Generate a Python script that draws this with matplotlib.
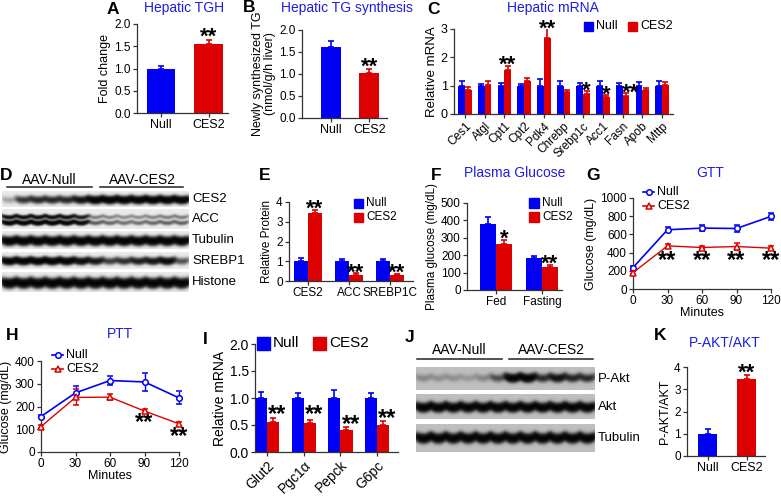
"""
Multi-panel figure: hepatic lipid data, blots, glucose and insulin tolerance
"""
import matplotlib.pyplot as plt
import numpy as np
from matplotlib.patches import Rectangle

plt.rcParams['font.family'] = ['Liberation Sans', 'DejaVu Sans']

FIG_W, FIG_H = 781, 500
BLUE = '#0000f5'
RED = '#dd0000'
TITLE_BLUE = '#1d1de0'

# A - hepatic TGH
A_groups = ['Null', 'CES2']
A_vals = [1.00, 1.54]
A_err = [0.06, 0.11]
# B - hepatic TG synthesis
B_groups = ['Null', 'CES2']
B_vals = [1.61, 1.02]
B_err = [0.13, 0.10]
# C - hepatic mRNA
C_genes = ['Ces1', 'Atgl', 'Cpt1', 'Cpt2', 'Pdk4', 'Chrebp', 'Srebp1c',
           'Acc1', 'Fasn', 'Apob', 'Mttp']
C_null = [1.0] * 11
C_null_err = [0.17, 0.05, 0.09, 0.07, 0.23, 0.15, 0.09, 0.17, 0.08, 0.13, 0.15]
C_ces2 = [0.86, 1.04, 1.56, 1.16, 2.67, 0.76, 0.72, 0.59, 0.64, 0.83, 1.02]
C_ces2_err = [0.08, 0.12, 0.14, 0.11, 0.35, 0.10, 0.10, 0.09, 0.10, 0.07, 0.12]
C_stars = {2: ('**', 1.85), 4: ('**', 3.12), 6: ('*', 0.93), 7: ('*', 0.79),
           8: ('**', 0.86)}
# D - western blots (band strength per lane, 6 Null + 7 CES2)
D_rows = ['CES2', 'ACC', 'Tubulin', 'SREBP1', 'Histone']
D_ces2 = [0.12, 0.5, 0.6, 0.6, 0.6, 0.85, 1.3, 1.3, 1.3, 1.3, 1.3, 1.3, 1.3]
D_acc_top = [0.9, 0.9, 0.9, 0.9, 0.9, 0.7, 0.22, 0.2, 0.18, 0.18, 0.2, 0.22, 0.22]
D_acc_low = [1.2, 1.2, 1.2, 1.2, 1.2, 1.0, 0.32, 0.28, 0.25, 0.25, 0.28, 0.3, 0.3]
D_tubulin = [1.3] * 13
D_srebp1 = [1.3, 1.3, 1.3, 1.3, 1.3, 1.0, 0.8, 0.45, 0.55, 0.7, 0.8, 1.0, 0.35]
D_histone = [1.3] * 13
# E - relative protein
E_groups = ['CES2', 'ACC', 'SREBP1C']
E_null = [1.03, 1.01, 1.03]
E_null_err = [0.15, 0.12, 0.10]
E_ces2 = [3.44, 0.32, 0.30]
E_ces2_err = [0.17, 0.07, 0.07]
E_star_y = [3.83, 0.55, 0.55]
# F - plasma glucose
F_groups = ['Fed', 'Fasting']
F_null = [379, 186]
F_null_err = [40, 8]
F_ces2 = [263, 135]
F_ces2_err = [24, 7]
F_stars = [('*', 312), ('**', 168)]
# G - GTT
G_minutes = [0, 30, 60, 90, 120]
G_null = [235, 651, 669, 665, 798]
G_null_err = [15, 30, 35, 35, 40]
G_ces2 = [180, 474, 456, 467, 449]
G_ces2_err = [15, 25, 20, 35, 20]
G_star_y = 345
# H - PTT
H_minutes = [0, 30, 60, 90, 120]
H_null = [156, 260, 314, 308, 238]
H_null_err = [8, 28, 20, 38, 28]
H_ces2 = [112, 240, 241, 180, 124]
H_ces2_err = [6, 35, 12, 8, 10]
H_stars = {90: 141, 120: 83}
# I - gluconeogenic mRNA
I_genes = ['Glut2', 'Pgc1\u03b1', 'Pepck', 'G6pc']
I_null = [1.0, 1.0, 1.0, 1.0]
I_null_err = [0.12, 0.09, 0.15, 0.10]
I_ces2 = [0.55, 0.53, 0.40, 0.50]
I_ces2_err = [0.08, 0.07, 0.06, 0.08]
I_star_y = [0.74, 0.74, 0.57, 0.68]
# J - western blots (6 Null + 6 CES2)
J_rows = ['P-Akt', 'Akt', 'Tubulin']
J_pakt = [0.12, 0.1, 0.1, 0.08, 0.12, 0.3, 1.2, 1.2, 0.5, 0.8, 0.55, 0.5]
J_akt = [1.2] * 12
J_tubulin = [1.2] * 12
# K - P-AKT/AKT
K_groups = ['Null', 'CES2']
K_vals = [0.99, 3.48]
K_err = [0.22, 0.18]

fig = plt.figure(figsize=(7.81, 5.0), dpi=100)
ov = fig.add_axes([0, 0, 1, 1])
ov.axis('off')


def px_axes(left, top, right, bottom, size=8.5):
    """Axes placed by pixel edges"""
    ax = fig.add_axes([left / FIG_W, 1 - bottom / FIG_H,
                       (right - left) / FIG_W, (bottom - top) / FIG_H])
    ax.patch.set_alpha(0)
    for s in ('top', 'right'):
        ax.spines[s].set_visible(False)
    for s in ('left', 'bottom'):
        ax.spines[s].set_linewidth(0.9)
        ax.spines[s].set_color('#333333')
    ax.tick_params(direction='out', length=3, width=0.9, color='#333333',
                   labelsize=size, pad=1.5)
    return ax


def bars(ax, x, vals, errs, color, width):
    ax.bar(x, vals, width=width, color=color, edgecolor='none', zorder=2)
    ax.errorbar(x, vals, yerr=[np.zeros(len(vals)), errs], fmt='none',
                ecolor=color, elinewidth=1.2, capsize=2.5, capthick=1.2,
                zorder=2)


def star(ax, x, y, s, size=16):
    # asterisks sit high in the em box, so shift the baseline down
    ax.annotate(s, xy=(x, y), xytext=(0, -0.4 * size),
                textcoords='offset points', ha='center', va='baseline',
                fontsize=size, fontweight='bold', annotation_clip=False)


def draw_blot(bands, x0, x1, y0, y1, bg):
    """Renders a blot strip; bands = (centre, half height, lane strengths)"""
    w = int((x1 - x0) * 4)
    h = int((y1 - y0) * 4)
    xx = np.linspace(0, 1, w)[None, :]
    yy = np.linspace(0, 1, h)[:, None]
    dark = np.zeros((h, w))
    for yc, hh, levels in bands:
        n = len(levels)
        for i, lv in enumerate(levels):
            xc = (i + 0.5) / n
            prof_x = np.exp(-((xx - xc) / (0.54 / n)) ** 4)
            bend = 0.07 * np.cos((xx - xc) * n * np.pi)
            prof_y = np.exp(-((yy - yc - bend) / hh) ** 2)
            dark += lv * prof_y * prof_x
    img = bg * np.exp(-3.0 * dark)
    ov.imshow(img, cmap='gray', vmin=0, vmax=1, extent=(x0, x1, y1, y0),
              aspect='auto', interpolation='bilinear')


def square_legend(x, y, dy, size, fs, horizontal=False, gap=0):
    for i, (lab, col) in enumerate([('Null', BLUE), ('CES2', RED)]):
        xx = x + (gap * i if horizontal else 0)
        yy = y + (0 if horizontal else dy * i)
        ov.add_patch(Rectangle((xx, yy - size / 2), size, size, color=col))
        ov.text(xx + size + 3, yy, lab, ha='left', va='center', fontsize=fs)


def line_legend(x, y, dy, fs):
    for i, (lab, col, mk) in enumerate([('Null', BLUE, 'o'),
                                        ('CES2', RED, '^')]):
        ov.plot([x, x + 11], [y + dy * i] * 2, color=col, lw=1.2)
        ov.plot([x + 5.5], [y + dy * i], marker=mk, ms=4, mfc='white',
                mec=col, mew=1.1)
        ov.text(x + 14, y + dy * i, lab, ha='left', va='center', fontsize=fs)


# ---- A
ax = px_axes(137, 24, 228, 113)
bars(ax, [0], A_vals[:1], A_err[:1], BLUE, 0.59)
bars(ax, [1], A_vals[1:], A_err[1:], RED, 0.59)
ax.set_xlim(-0.505, 1.41)
ax.set_ylim(0, 2)
ax.set_yticks(np.arange(0, 2.01, 0.5))
ax.set_yticklabels([f'{v:.1f}' for v in np.arange(0, 2.01, 0.5)])
ax.set_xticks([0, 1])
ax.set_xticklabels(A_groups, fontsize=9)
ax.set_ylabel('Fold change', fontsize=9, labelpad=2)
star(ax, 1, 1.78, '**')

# ---- B
ax = px_axes(302, 30, 387, 118)
bars(ax, [0], B_vals[:1], B_err[:1], BLUE, 0.52)
bars(ax, [1], B_vals[1:], B_err[1:], RED, 0.52)
ax.set_xlim(-0.753, 1.455)
ax.set_ylim(0, 2)
ax.set_yticks(np.arange(0, 2.01, 0.5))
ax.set_yticklabels([f'{v:.1f}' for v in np.arange(0, 2.01, 0.5)])
ax.set_xticks([0, 1])
ax.set_xticklabels(B_groups, fontsize=9)
ax.set_ylabel('Newly synthesized TG\n(nmol/g/h liver)', fontsize=9,
              labelpad=2, linespacing=1.0)
star(ax, 1, 1.22, '**')

# ---- C
ax = px_axes(454, 29, 673, 114, size=9)
xc = np.arange(len(C_genes))
bw = 0.34
bars(ax, xc - bw / 2, C_null, C_null_err, BLUE, bw)
bars(ax, xc + bw / 2, C_ces2, C_ces2_err, RED, bw)
ax.set_xlim(-0.56, 10.56)
ax.set_ylim(0, 3)
ax.set_yticks([0, 1, 2, 3])
ax.set_xticks(xc)
ax.set_xticklabels(C_genes, rotation=45, ha='right', rotation_mode='anchor',
                   fontsize=8.5)
ax.set_ylabel('Relative mRNA', fontsize=9.5, labelpad=2)
for i, (s, y) in C_stars.items():
    star(ax, i + bw / 2 + (0.25 if i == 8 else 0), y, s)
square_legend(584, 26, 0, 9, 9, horizontal=True, gap=44)

# ---- D
for lab, cx, x0, x1 in [('AAV-Null', 49, 7, 92), ('AAV-CES2', 142, 100, 183)]:
    ov.text(cx, 180, lab, ha='center', va='center', fontsize=10)
    ov.plot([x0, x1], [187, 187], color='#222222', lw=1.1)
d_strips = [
    ([(0.5, 0.2, D_ces2)], 191, 207),
    ([(0.35, 0.09, D_acc_top), (0.64, 0.1, D_acc_low)], 209, 229),
    ([(0.5, 0.2, D_tubulin)], 231, 249),
    ([(0.48, 0.18, D_srebp1)], 252, 269),
    ([(0.5, 0.2, D_histone)], 272, 292),
]
for (bands, y0, y1), lab in zip(d_strips, D_rows):
    draw_blot(bands, 2, 189, y0, y1, 0.92)
    ov.text(192, (y0 + y1) / 2, lab, ha='left', va='center', fontsize=9.5)

# ---- E
ax = px_axes(289, 202, 413, 281)
xe = np.arange(len(E_groups))
bw = 0.34
bars(ax, xe - bw / 2, E_null, E_null_err, BLUE, bw)
bars(ax, xe + bw / 2, E_ces2, E_ces2_err, RED, bw)
ax.set_xlim(-0.46, 2.56)
ax.set_ylim(0, 4)
ax.set_yticks([0, 1, 2, 3, 4])
ax.set_xticks(xe)
ax.set_xticklabels(E_groups, fontsize=8.5)
ax.set_ylabel('Relative Protein', fontsize=8.5, labelpad=2)
for i, y in enumerate(E_star_y):
    star(ax, i + bw / 2, y, '**')
square_legend(354, 203, 14, 9, 8.5)

# ---- F
ax = px_axes(467, 203, 562, 290)
xf = np.arange(len(F_groups))
bw = 0.34
bars(ax, xf - bw / 2, F_null, F_null_err, BLUE, bw)
bars(ax, xf + bw / 2, F_ces2, F_ces2_err, RED, bw)
ax.set_xlim(-0.63, 1.435)
ax.set_ylim(0, 500)
ax.set_yticks(np.arange(0, 501, 100))
ax.set_xticks(xf)
ax.set_xticklabels(F_groups, fontsize=8.5)
ax.set_ylabel('Plasma glucose (mg/dL)', fontsize=8.5, labelpad=2)
for i, (s, y) in enumerate(F_stars):
    star(ax, i + bw / 2, y, s)
square_legend(529, 203, 14, 10, 8.5)

# ---- G
ax = px_axes(633, 198, 771, 289)
ax.errorbar(G_minutes, G_null, yerr=G_null_err, color=BLUE, lw=1.2,
            marker='o', ms=4, mfc='white', mec=BLUE, mew=1.1, capsize=2,
            elinewidth=1, clip_on=False, zorder=3)
ax.errorbar(G_minutes, G_ces2, yerr=G_ces2_err, color=RED, lw=1.0,
            marker='^', ms=4, mfc='white', mec=RED, mew=1.1, capsize=2,
            elinewidth=1, clip_on=False, zorder=3)
ax.set_xlim(0, 120)
ax.set_ylim(0, 1000)
ax.set_xticks(G_minutes)
ax.set_yticks(np.arange(0, 1001, 200))
ax.set_xlabel('Minutes', fontsize=9, labelpad=0)
ax.set_ylabel('Glucose (mg/dL)', fontsize=9, labelpad=2)
for m in G_minutes[1:]:
    star(ax, m, G_star_y, '**', 17)
line_legend(643, 192, 14, 9)

# ---- H
ax = px_axes(41, 361, 179, 452)
ax.errorbar(H_minutes, H_null, yerr=H_null_err, color=BLUE, lw=1.2,
            marker='o', ms=4, mfc='white', mec=BLUE, mew=1.1, capsize=2,
            elinewidth=1, clip_on=False, zorder=3)
ax.errorbar(H_minutes, H_ces2, yerr=H_ces2_err, color=RED, lw=1.0,
            marker='^', ms=4, mfc='white', mec=RED, mew=1.1, capsize=2,
            elinewidth=1, clip_on=False, zorder=3)
ax.set_xlim(0, 120)
ax.set_ylim(0, 400)
ax.set_xticks(H_minutes)
ax.set_yticks(np.arange(0, 401, 100))
ax.set_xlabel('Minutes', fontsize=9, labelpad=0)
ax.set_ylabel('Glucose (mg/dL)', fontsize=9, labelpad=2)
for m, y in H_stars.items():
    star(ax, m, y, '**', 17)
line_legend(52, 355, 14, 9)

# ---- I
ax = px_axes(255, 344, 398, 452, size=10)
xi = np.arange(len(I_genes))
bw = 0.33
bars(ax, xi - bw / 2, I_null, I_null_err, BLUE, bw)
bars(ax, xi + bw / 2, I_ces2, I_ces2_err, RED, bw)
ax.set_xlim(-0.33, 3.57)
ax.set_ylim(0, 2)
ax.set_yticks(np.arange(0, 2.01, 0.5))
ax.set_yticklabels([f'{v:.1f}' for v in np.arange(0, 2.01, 0.5)])
ax.set_xticks(xi)
ax.set_xticklabels(I_genes, rotation=45, ha='right', rotation_mode='anchor',
                   fontsize=10)
ax.set_ylabel('Relative mRNA', fontsize=10, labelpad=2)
for i, y in enumerate(I_star_y):
    star(ax, i + bw / 2 + 0.12, y, '**', 17)
square_legend(257, 343, 0, 13, 11, horizontal=True, gap=56)

# ---- J
for lab, cx, x0, x1 in [('AAV-Null', 459, 417, 502),
                        ('AAV-CES2', 551, 509, 593)]:
    ov.text(cx, 350, lab, ha='center', va='center', fontsize=10)
    ov.plot([x0, x1], [359, 359], color='#222222', lw=1.1)
j_strips = [
    ([(0.42, 0.15, J_pakt)], 367, 390),
    ([(0.48, 0.15, J_akt)], 394, 419),
    ([(0.45, 0.14, J_tubulin)], 424, 452),
]
for (bands, y0, y1), lab in zip(j_strips, J_rows):
    draw_blot(bands, 416, 595, y0, y1, 0.75)
    ov.text(598, (y0 + y1) / 2, lab, ha='left', va='center', fontsize=9.5)

# ---- K
ax = px_axes(687, 367, 765, 456)
bars(ax, [0], K_vals[:1], K_err[:1], BLUE, 0.49)
bars(ax, [1], K_vals[1:], K_err[1:], RED, 0.49)
ax.set_xlim(-0.526, 1.474)
ax.set_ylim(0, 4)
ax.set_yticks([0, 1, 2, 3, 4])
ax.set_xticks([0, 1])
ax.set_xticklabels(K_groups, fontsize=9)
ax.set_ylabel('P-AKT/AKT', fontsize=9, labelpad=2)
star(ax, 1, 3.87, '**')

# ---- panel letters and titles
letters = [('A', 113, 9), ('B', 249, 8), ('C', 433, 9), ('D', 6, 176),
           ('E', 265, 176), ('F', 436, 176), ('G', 593, 176),
           ('H', 12, 336), ('I', 205, 340), ('J', 410, 337), ('K', 660, 336)]
for s, x, y in letters:
    ov.text(x, y, s, ha='center', va='center', fontsize=12.5,
            fontweight='bold')
titles = [('Hepatic TGH', 184, 8), ('Hepatic TG synthesis', 347, 8),
          ('Hepatic mRNA', 553, 8), ('Plasma Glucose', 515, 173),
          ('GTT', 710, 173), ('PTT', 120, 334), ('P-AKT/AKT', 725, 343)]
for s, x, y in titles:
    ov.text(x, y, s, ha='center', va='center', fontsize=10, color=TITLE_BLUE)

ov.set_xlim(0, FIG_W)
ov.set_ylim(FIG_H, 0)

fig.savefig('out.png', dpi=100)
plt.close()
